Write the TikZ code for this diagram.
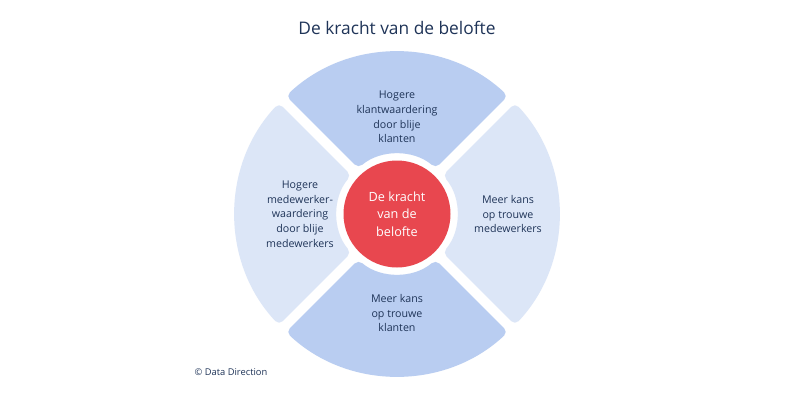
\documentclass[tikz,border=0pt]{standalone}
\usepackage{fontspec}
\setmainfont{Open Sans}
\definecolor{navy}{HTML}{1F3458}
\definecolor{segdark}{HTML}{B9CDF1}
\definecolor{seglight}{HTML}{DCE6F7}
\definecolor{kred}{HTML}{E8474F}
\begin{document}
\begin{tikzpicture}[x=0.75pt,y=-0.75pt,
  lbl/.style={text=navy,font=\fontsize{8}{11}\selectfont,align=center},
  seg/.style={rounded corners=4pt}]
\useasboundingbox[fill=white] (0,0) rectangle (800,400);
\coordinate (c) at (397,214);
\def\ro{162}\def\ri{60}\def\go{1.77}\def\gi{4.78}
\foreach \a/\col in {-90/segdark,90/segdark,0/seglight,180/seglight}{
  \fill[seg,\col,shift={(c)}] ({\a-45+\go}:\ro) arc[start angle={\a-45+\go},end angle={\a+45-\go},radius=\ro]
    -- ({\a+45-\gi}:\ri) arc[start angle={\a+45-\gi},end angle={\a-45+\gi},radius=\ri] -- cycle;
}
\node[circle,fill=kred,minimum size=107*0.75pt,inner sep=0pt,text=white,align=center,font=\fontsize{9.5}{13}\selectfont] (ctr) at (c) {De kracht\\van de\\belofte};
\node[lbl] (top) at (397,117) {Hogere\\klantwaardering\\door blije\\klanten};
\node[lbl] (left) at (300,214) {Hogere\\medewerker-\\waardering\\door blije\\medewerkers};
\node[lbl] (right) at (508,214) {Meer kans\\op trouwe\\medewerkers};
\node[lbl] (bot) at (397,313) {Meer kans\\op trouwe\\klanten};
\node[text=navy,font=\fontsize{13}{16}\selectfont] (title) at (397,28) {De kracht van de belofte};
\node[text=navy,font=\fontsize{7}{9}\selectfont,anchor=west] (copy) at (190,372) {© Data Direction};
\end{tikzpicture}
\end{document}
